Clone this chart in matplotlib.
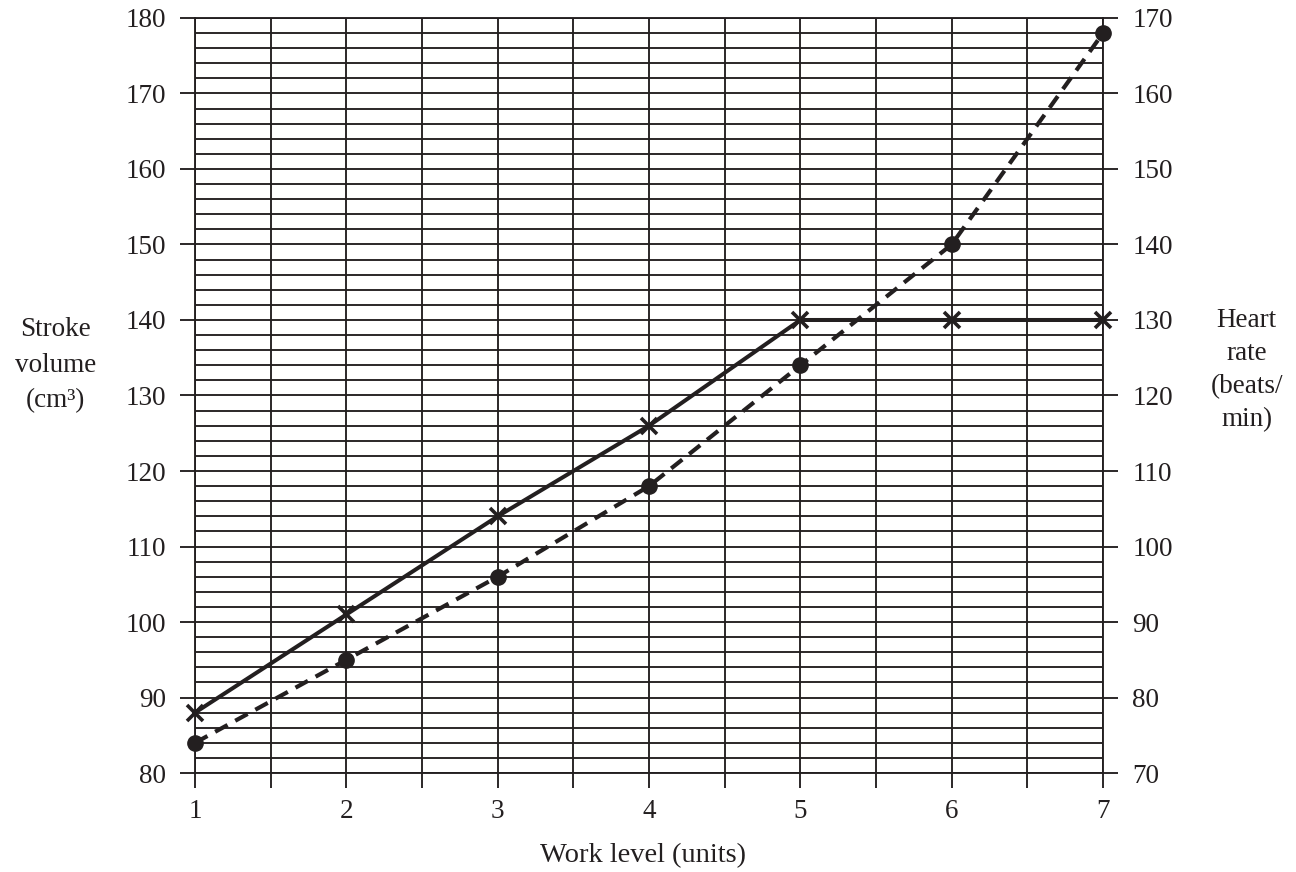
import matplotlib
matplotlib.use("Agg")
import matplotlib.pyplot as plt
import numpy as np

plt.rcParams['font.family'] = ['Liberation Serif', 'DejaVu Serif']

work_level = [1, 2, 3, 4, 5, 6, 7]
stroke_volume = [88, 101, 114, 126, 140, 140, 140]
heart_rate = [74, 85, 96, 108, 124, 140, 168]
left_ticks = [80, 90, 100, 110, 120, 130, 140, 150, 160, 170, 180]
right_ticks = [70, 80, 90, 100, 110, 120, 130, 140, 150, 160, 170]
x_ticks = [1, 2, 3, 4, 5, 6, 7]

INK = '#231f20'
FS = 19.5
fig = plt.figure(figsize=(12.96, 8.72), dpi=100)
ax = fig.add_axes([0.1505, 0.1135, 0.7006, 0.8659])
ax.set_xlim(1, 7)
ax.set_ylim(80, 180)

# grid
for gx in np.arange(1, 7.01, 0.5):
    ax.axvline(gx, color=INK, lw=1.35, zorder=1)
for gy in np.arange(80, 180.1, 2):
    ax.axhline(gy, color=INK, lw=1.35, zorder=1)

for s in ax.spines.values():
    s.set_color(INK)
    s.set_linewidth(1.35)

half_ticks = np.arange(1, 7.01, 0.5)
ax.set_xticks(half_ticks)
ax.set_xticklabels([str(int(v)) if float(v).is_integer() else '' for v in half_ticks])
ax.set_yticks(left_ticks)
ax.set_yticklabels([str(v) for v in left_ticks])
ax.tick_params(axis='x', direction='out', length=11, width=1.35, color=INK,
               labelsize=FS, labelcolor=INK, pad=8)
ax.tick_params(axis='y', direction='out', length=11, width=1.35, color=INK,
               labelsize=FS, labelcolor=INK, pad=10)

ax.plot(work_level, stroke_volume, color=INK, lw=2.9, marker='x', markersize=11,
        markeredgewidth=2.6, zorder=3, clip_on=False)

ax2 = ax.twinx()
ax2.set_ylim(70, 170)
ax2.set_yticks(right_ticks)
ax2.set_yticklabels([str(v) for v in right_ticks])
for s in ax2.spines.values():
    s.set_visible(False)
ax2.tick_params(axis='y', direction='out', length=11, width=1.35, color=INK,
                labelsize=FS, labelcolor=INK, pad=10)
ax2.plot(work_level, heart_rate, color=INK, lw=3.0, ls=(0, (3.4, 2.1)), marker='o',
         markersize=11, zorder=3, clip_on=False)

fig.text(0.043, 0.581, 'Stroke\nvolume\n(cm³)', ha='center', va='center',
         fontsize=FS, color=INK, linespacing=1.55)
fig.text(0.962, 0.5757, 'Heart\nrate\n(beats/\nmin)', ha='center', va='center',
         fontsize=FS, color=INK, linespacing=1.42)
fig.text(0.496, 0.019, 'Work level (units)', ha='center', va='center',
         fontsize=FS + 1, color=INK)

fig.savefig('out.png', dpi=100)
